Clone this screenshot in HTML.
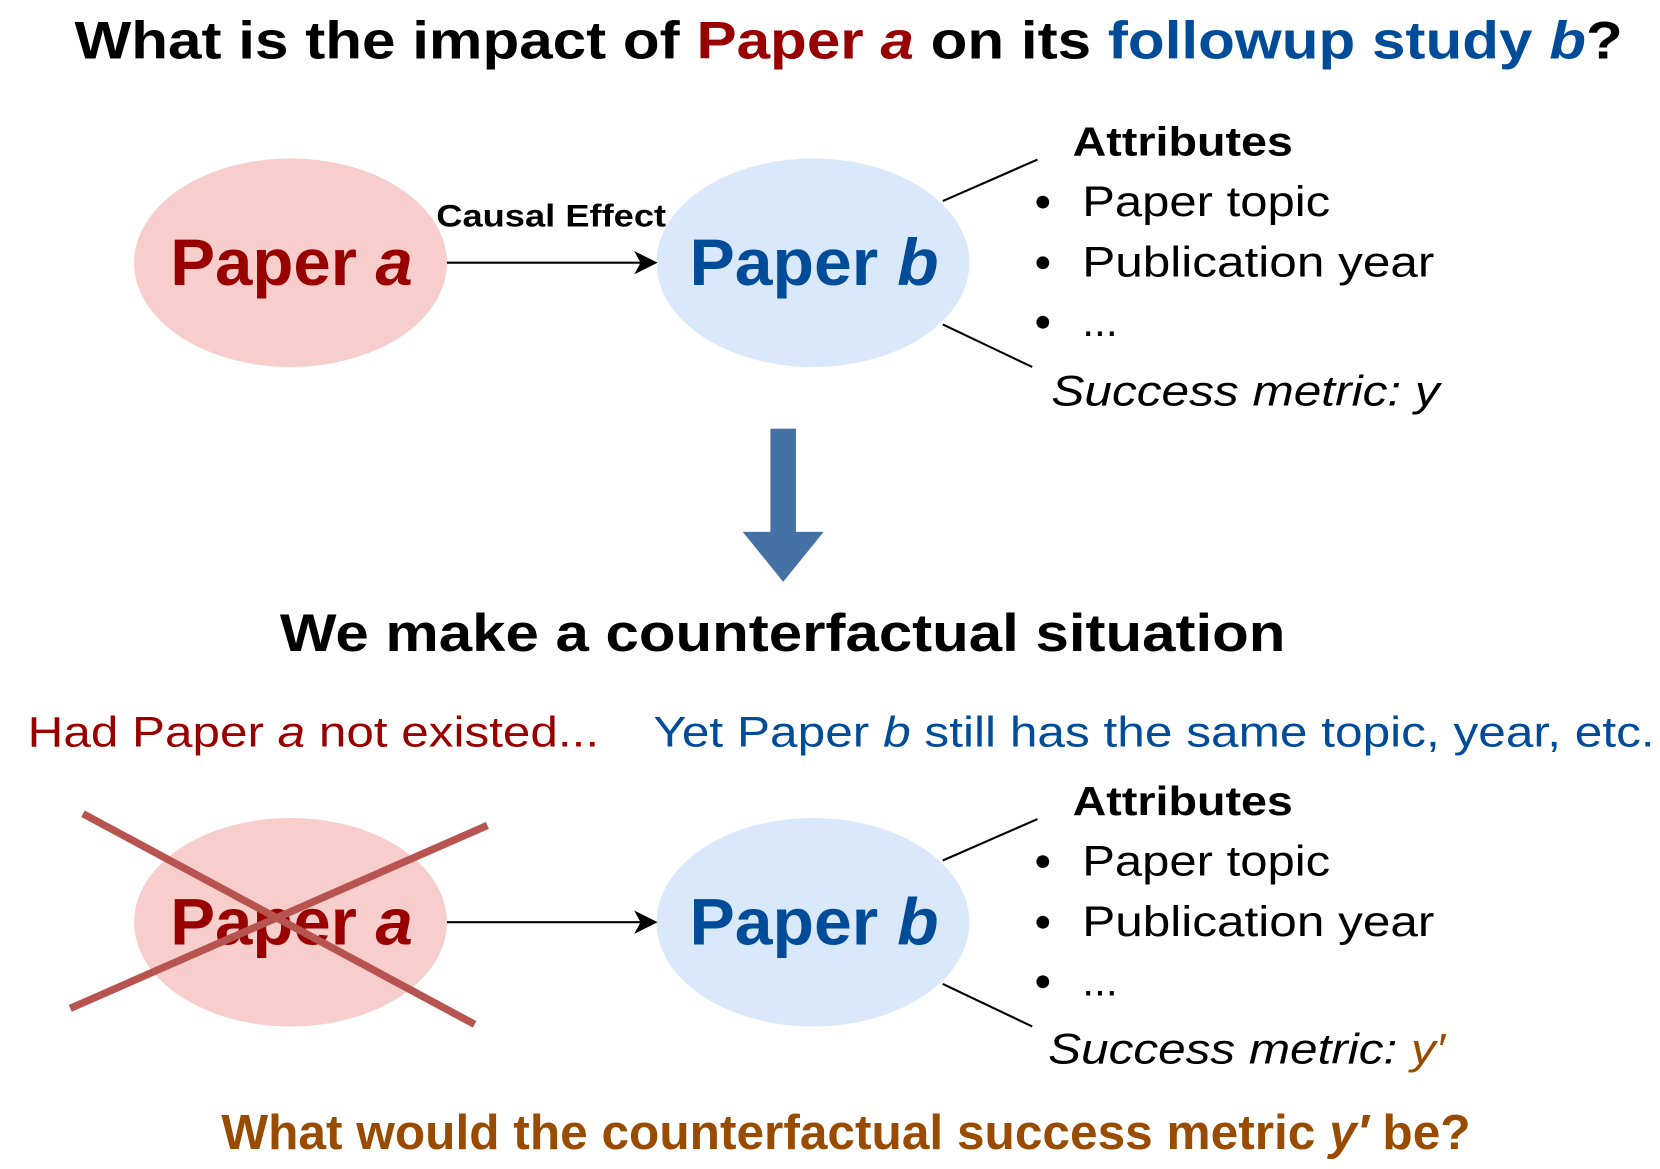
<!DOCTYPE html>
<html><head><meta charset="utf-8"><style>html,body{margin:0;padding:0;background:#fff}svg{display:block}</style></head>
<body>
<svg width="1660" height="1169" viewBox="0 0 1560 1099" preserveAspectRatio="none" xmlns="http://www.w3.org/2000/svg" font-family="Liberation Sans, Arial, sans-serif">
<defs><marker id="ah" markerWidth="10" markerHeight="10" refX="9" refY="5" orient="auto" markerUnits="userSpaceOnUse" viewBox="0 0 10 10"><path d="M0,0 L10,5 L0,10 L3,5 z" fill="#000"/></marker>
<marker id="ah2" markerWidth="22" markerHeight="22" refX="20" refY="11" orient="auto" markerUnits="userSpaceOnUse"><path d="M0,0 L22,11 L0,22 L6,11 z" fill="#000"/></marker></defs>
<text x="70" y="55" font-size="50" font-weight="bold" textLength="1455" lengthAdjust="spacingAndGlyphs">What is the impact of <tspan fill="#990000">Paper <tspan font-style="italic">a</tspan></tspan> on its <tspan fill="#004c99">followup study <tspan font-style="italic">b</tspan></tspan>?</text>

<g id="top">
<ellipse cx="273" cy="247" rx="147" ry="98" fill="#f8cecc"/>
<ellipse cx="764" cy="247" rx="147" ry="98" fill="#dae8fc"/>
<text x="160" y="268" font-size="62" font-weight="bold" fill="#990000" textLength="228" lengthAdjust="spacingAndGlyphs">Paper <tspan font-style="italic">a</tspan></text>
<text x="648" y="268" font-size="62" font-weight="bold" fill="#004c99" textLength="234" lengthAdjust="spacingAndGlyphs">Paper <tspan font-style="italic">b</tspan></text>
<line x1="420" y1="247" x2="616" y2="247" stroke="#000" stroke-width="2" marker-end="url(#ah2)"/>
<line x1="886" y1="189" x2="975" y2="150" stroke="#000" stroke-width="2"/>
<line x1="886" y1="305" x2="970" y2="345" stroke="#000" stroke-width="2"/>
<text x="1008" y="146" font-size="38" font-weight="bold" textLength="207" lengthAdjust="spacingAndGlyphs">Attributes</text>
<circle cx="980" cy="190" r="6"/><circle cx="980" cy="247" r="6"/><circle cx="980" cy="303" r="6"/>
<text x="1017" y="203" font-size="40" textLength="233" lengthAdjust="spacingAndGlyphs">Paper topic</text>
<text x="1017" y="260" font-size="40" textLength="331" lengthAdjust="spacingAndGlyphs">Publication year</text>
<text x="1017" y="316" font-size="40">...</text>
</g>
<text x="410" y="213" font-size="30" font-weight="bold" textLength="216" lengthAdjust="spacingAndGlyphs">Causal Effect</text>
<text x="988" y="381" font-size="40" font-style="italic" textLength="365" lengthAdjust="spacingAndGlyphs">Success metric: y</text>

<rect x="724" y="403" width="24" height="99" fill="#4472a4"/>
<path d="M698,500 L774,500 L736,547 z" fill="#4472a4"/>
<text x="263" y="612" font-size="50" font-weight="bold" textLength="945" lengthAdjust="spacingAndGlyphs">We make a counterfactual situation</text>
<text x="26" y="702" font-size="40" fill="#990000" textLength="537" lengthAdjust="spacingAndGlyphs">Had Paper <tspan font-style="italic">a</tspan> not existed...</text>
<text x="614" y="702" font-size="40" fill="#004c99" textLength="941" lengthAdjust="spacingAndGlyphs">Yet Paper <tspan font-style="italic">b</tspan> still has the same topic, year, etc.</text>

<use href="#top" transform="translate(0,620)"/>
<line x1="78" y1="765" x2="446" y2="963" stroke="#b85450" stroke-width="7"/>
<line x1="458" y1="776" x2="66" y2="948" stroke="#b85450" stroke-width="7"/>
<text x="985" y="1000" font-size="40" font-style="italic" textLength="373" lengthAdjust="spacingAndGlyphs">Success metric: <tspan fill="#994c00">y′</tspan></text>
<text x="208" y="1080" font-size="46" font-weight="bold" fill="#994c00" textLength="1174" lengthAdjust="spacingAndGlyphs">What would the counterfactual success metric <tspan font-style="italic">y′</tspan> be?</text>
</svg>
</body></html>
